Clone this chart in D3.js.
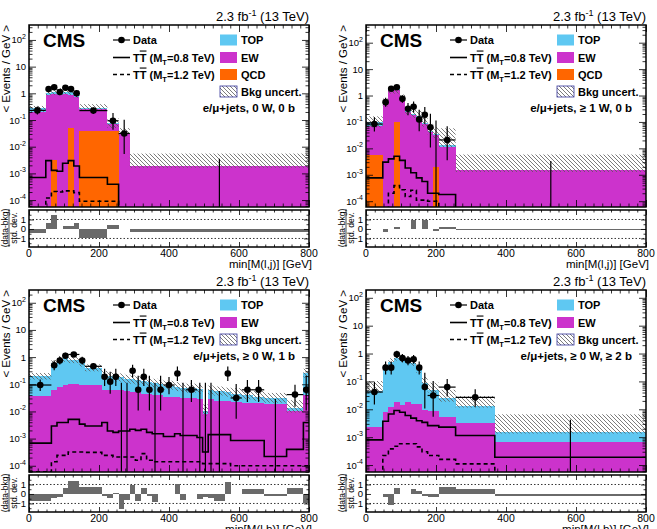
<!DOCTYPE html>
<html>
<head>
<meta charset="utf-8">
<script src="https://cdn.jsdelivr.net/npm/d3@7"></script>
<style>
  body { margin: 0; background: #fff; }
  svg { font-family: "Liberation Sans", Arial, Helvetica, sans-serif; }
</style>
</head>
<body>
<svg id="chart" width="657" height="529"></svg>
<script>
// ---- data (values are < events / GeV >, data are counts) ----

// e/mu+jets, 0 W, 0 b  -- min[M(l,j)]
var tlEdges = [0, 48, 64, 80, 96, 112, 128, 144, 224, 256, 288, 800];
var tlData  = [11, 23, 27, 18, 26, 23, 16, 18, 3, 1, 0];
var tlQcd   = [0, 0, 0.0033, 0, 0, 0.05, 0, 0.04, 0.04, 0, 0];
var tlEw    = [0.2, 0.85, 0.9, 0.85, 0.95, 0.85, 0.7, 0.22, 0.033, 0.03, 0.0019];
var tlTop   = [0.07, 0.2, 0.2, 0.2, 0.2, 0.2, 0.15, 0.02, 0.004, 0.003, 0];
var tlUp    = [0.25, 0.5, 0.5, 0.5, 0.5, 0.5, 0.5, 0.4, 0.5, 0.5, 1.9];
var tlDn    = [0.25, 0.2, 0.2, 0.2, 0.2, 0.2, 0.2, 0.15, 0.35, 0.2, 0.15];
var tlSig08 = [7e-4, 3e-3, 1.3e-3, 1.2e-3, 2.4e-3, 3e-3, 1.9e-3, 7e-4, 3.9e-4, 0, 0];
var tlSig12 = [0, 1.2e-4, 2.1e-4, 2e-4, 2.2e-4, 2.2e-4, 1.9e-4, 9e-5, 9e-5, 0, 0];
var tlPull  = [-0.45, 0.6, 1.45, 0, 0.3, 0.3, 0.6, -0.9, 0.4, 0.05, -0.35];

// e/mu+jets, >= 1 W, 0 b  -- min[M(l,j)]
var trEdges = [0, 48, 64, 80, 96, 112, 128, 144, 160, 176, 192, 208, 256, 800];
var trData  = [4, 9, 29, 33, 12, 5, 6, 2, 3, 1, 0, 1, 0];
var trQcd   = [0.0057, 0, 0, 0.1, 0, 0, 0, 0, 0, 0, 0.002, 0, 0];
var trEw    = [0.063, 0.5, 1.6, 1.5, 0.75, 0.24, 0.18, 0.15, 0.085, 0.042, 0.03, 0.011, 0.0015];
var trTop   = [0.027, 0.05, 0.1, 0.1, 0.06, 0.03, 0.02, 0.015, 0.01, 0.005, 0.003, 0.002, 0];
var trUp    = [0.7, 0.4, 0.35, 0.35, 0.35, 0.4, 0.5, 0.6, 0.7, 0.8, 0.8, 3.4, 2.9];
var trDn    = [0.35, 0.3, 0.3, 0.3, 0.3, 0.3, 0.3, 0.3, 0.3, 0.3, 0.3, 0.15, 0.15];
var trSig08 = [7.6e-4, 3e-3, 4e-3, 5e-3, 3.5e-3, 1.8e-3, 1.2e-3, 7.6e-4, 5.6e-4, 2e-4, 2e-4, 1.8e-4, 0];
var trSig12 = [0, 5e-5, 2e-4, 3.9e-4, 2.7e-4, 1.5e-4, 2.6e-4, 1.1e-4, 1.1e-4, 1e-4, 1e-4, 0, 0];
var trPull  = [-0.05, -0.35, 0, 0.25, 0.05, 0.05, 0.9, 0.05, 0.9, 0.05, -0.2, 0.2, -0.15];

// e/mu+jets, >= 0 W, 1 b  -- min[M(l,b)]
var blEdges = [0, 64, 80, 96, 112, 144, 160, 208, 224, 240, 256, 272, 288, 304, 320, 336, 352, 368, 384, 416,
               432, 448, 480, 496, 512, 528, 560, 576, 608, 640, 672, 736, 784, 800];
var blData  = [6, 8, 12, 18, 40, 12, 22, 3, 2, 3, 0, 0, 5, 1, 3, 1, 0, 1, 3, 4, 0, 2, 0, 0, 0, 0, 4, 1, 2, 2, 0, 2, 1];
var blEw    = [0.038, 0.063, 0.08, 0.095, 0.1, 0.095, 0.095, 0.063, 0.063, 0.06, 0.06, 0.055, 0.05, 0.05, 0.045,
               0.045, 0.04, 0.04, 0.035, 0.035, 0.03, 0.03, 0.028, 0.008, 0.028, 0.025, 0.025, 0.022, 0.02, 0.02,
               0.018, 0.01, 0.04];
var blTop   = [0.162, 0.537, 0.77, 0.805, 0.7, 0.505, 0.305, 0.157, 0.137, 0.12, 0.12, 0.105, 0.1, 0.09, 0.085,
               0.075, 0.07, 0.06, 0.055, 0.045, 0.045, 0.04, 0.037, 0.002, 0.032, 0.03, 0.025, 0.023, 0.02, 0.015,
               0.012, 0.003, 0.21];
var blUp    = [0.3, 0.3, 0.3, 0.3, 0.3, 0.35, 0.35, 0.4, 0.4, 0.4, 0.4, 0.4, 0.4, 0.4, 0.45, 0.45, 0.45, 0.45, 0.5,
               0.5, 0.5, 0.5, 0.5, 0.8, 0.5, 0.5, 0.5, 0.6, 0.6, 0.6, 0.6, 1.0, 0.5];
var blDn    = [0.25, 0.25, 0.25, 0.25, 0.25, 0.25, 0.25, 0.3, 0.3, 0.3, 0.3, 0.3, 0.3, 0.3, 0.3, 0.3, 0.3, 0.3, 0.3,
               0.3, 0.3, 0.3, 0.3, 0.3, 0.3, 0.3, 0.3, 0.3, 0.3, 0.3, 0.3, 0.3, 0.3];
var blSig08 = [6.8e-4, 2.9e-3, 3.9e-3, 3.9e-3, 5.1e-3, 3.4e-3, 2.9e-3, 3.9e-3, 1.9e-3, 1.7e-3, 1.9e-3, 1.9e-3,
               2.2e-3, 2e-3, 2.2e-3, 1.7e-3, 1.5e-3, 1.5e-3, 1.2e-3, 1.5e-3, 1.3e-3, 1.3e-3, 1.1e-3, 3.2e-4,
               1.4e-3, 1.4e-3, 1.4e-3, 8.5e-4, 8.5e-4, 8.5e-4, 2.2e-4, 4e-4, 3.9e-3];
var blSig12 = [6e-5, 1.4e-4, 2.4e-4, 2.4e-4, 3.2e-4, 3.2e-4, 3.1e-4, 2.4e-4, 2.4e-4, 2.1e-4, 2.1e-4, 2.1e-4,
               2.1e-4, 1.6e-4, 2.8e-4, 1.6e-4, 1.4e-4, 1.4e-4, 1.4e-4, 1.4e-4, 1.4e-4, 1.4e-4, 1.4e-4, 1.2e-4,
               1.2e-4, 1.2e-4, 1.2e-4, 1e-4, 1e-4, 1e-4, 1e-4, 1e-4, 1e-4];
var blPull  = [-0.75, -0.4, -0.3, 0.6, 1.4, 0.75, 0.75, -0.2, -0.4, 0.1, -1.6, -0.6, 0.9, -0.7, 0.6, -0.2, -0.8,
               0, 0.05, 1.0, -0.6, 0, -0.5, -0.3, -0.4, -0.7, 1.3, 0, 0.5, 0.5, -0.2, 0.6, -1.0];

// e/mu+jets, >= 0 W, >= 2 b  -- min[M(l,b)]
var brEdges = [0, 48, 64, 80, 96, 112, 128, 144, 160, 176, 208, 256, 368, 800];
var brData  = [2, 5, 5, 15, 11, 9, 10, 5, 1, 1, 3, 3, 0];
var brEw    = [0.0024, 0.0078, 0.012, 0.018, 0.014, 0.018, 0.016, 0.015, 0.0098, 0.009, 0.0052, 0.0032, 0.00066];
var brTop   = [0.0446, 0.292, 0.488, 0.682, 0.586, 0.532, 0.434, 0.235, 0.08, 0.041, 0.0198, 0.0098, 0.00084];
var brUp    = [1.2, 0.4, 0.35, 0.35, 0.35, 0.35, 0.4, 0.5, 0.6, 0.8, 1.0, 1.3, 3.4];
var brDn    = [0.15, 0.2, 0.2, 0.2, 0.2, 0.2, 0.2, 0.2, 0.2, 0.2, 0.25, 0.12, 0.1];
var brSig08 = [8e-4, 3.7e-3, 6.8e-3, 9e-3, 7.8e-3, 6e-3, 4.8e-3, 3.9e-3, 3.4e-3, 2.6e-3, 2.3e-3, 1.15e-3, 1.9e-4];
var brSig12 = [0, 2.2e-4, 3.8e-4, 4.7e-4, 5.8e-4, 5.8e-4, 5.8e-4, 4.5e-4, 3e-4, 2.2e-4, 1.6e-4, 1.1e-4, 0];
var brPull  = [-0.05, -0.35, -1.2, 0.6, 0.05, 0.05, 0.5, 0.3, -0.2, -0.35, 0.7, 0.5, -0.25];

var xTicks = [0, 200, 400, 600, 800];
var pullTicks = [-1, 0, 1];

var colors = {top: '#5fc8f2', ew: '#cc33cc', qcd: '#ff6600'};

var panels = [
  {key: 'tl', left: 29, top: 25, edges: tlEdges, data: tlData, qcd: tlQcd, ew: tlEw, tp: tlTop, up: tlUp, dn: tlDn,
   s08: tlSig08, s12: tlSig12, pull: tlPull, dom: [-4.26, 2.56],
   cat: 'e/\u03bc+jets, 0 W, 0 b', xtitle: 'min[M(l,j)] [GeV]'},
  {key: 'tr', left: 366, top: 25, edges: trEdges, data: trData, qcd: trQcd, ew: trEw, tp: trTop, up: trUp, dn: trDn,
   s08: trSig08, s12: trSig12, pull: trPull, dom: [-4.22, 2.67],
   cat: 'e/\u03bc+jets, \u2265 1 W, 0 b', xtitle: 'min[M(l,j)] [GeV]'},
  {key: 'bl', left: 29, top: 290, edges: blEdges, data: blData, qcd: null, ew: blEw, tp: blTop, up: blUp, dn: blDn,
   s08: blSig08, s12: blSig12, pull: blPull, dom: [-4.23, 2.47],
   cat: 'e/\u03bc+jets, \u2265 0 W, 1 b', xtitle: 'min[M(l,b)] [GeV]'},
  {key: 'br', left: 366, top: 290, edges: brEdges, data: brData, qcd: null, ew: brEw, tp: brTop, up: brUp, dn: brDn,
   s08: brSig08, s12: brSig12, pull: brPull, dom: [-4.25, 2.28],
   cat: 'e/\u03bc+jets, \u2265 0 W, \u2265 2 b', xtitle: 'min[M(l,b)] [GeV]'}
];

var FW = 280, FH = 182, RH = 37, RGAP = 3;

var svg = d3.select('#chart');
var defs = svg.append('defs');
var pat = defs.append('pattern').attr('id', 'hatch').attr('patternUnits', 'userSpaceOnUse')
    .attr('width', 4).attr('height', 4);
pat.append('path').attr('d', 'M-1,-1 L5,5 M3,-1 L5,1 M-1,3 L1,5')
    .attr('stroke', '#5a5a5a').attr('stroke-width', 0.8);

// garwood 68% interval (Wilson-Hilferty form)
function poisLo(n) {
  if (n === 0) return 0;
  var a = 1 - 1 / (9 * n) - 1 / (3 * Math.sqrt(n));
  return n * a * a * a;
}
function poisHi(n) {
  var m = n + 1;
  var a = 1 - 1 / (9 * m) + 1 / (3 * Math.sqrt(m));
  return m * a * a * a;
}

function ticks(g, axisFn, scale, vals, len, tx) {
  g.append('g').attr('transform', tx)
      .call(axisFn(scale).tickValues(vals).tickSize(-len).tickFormat(''))
      .call(function (s) {
        s.select('.domain').remove();
        s.selectAll('line').attr('stroke-width', 0.8);
      });
}

function supText(sel, base, sup, size) {
  sel.append('tspan').text(base);
  sel.append('tspan').attr('dy', -4.5).attr('font-size', size).text(sup);
}

function drawPanel(p) {
  var x = d3.scaleLinear().domain([0, 800]).range([0, FW]);
  var y = d3.scaleLog().domain([Math.pow(10, p.dom[0]), Math.pow(10, p.dom[1])]).range([FH, 0]);
  var ys = function (v) { return v > 0 ? Math.min(y(v), FH + 30) : FH + 30; };

  defs.append('clipPath').attr('id', 'clip-' + p.key)
      .append('rect').attr('width', FW).attr('height', FH);

  var g = svg.append('g').attr('transform', 'translate(' + p.left + ',' + p.top + ')');
  var plot = g.append('g').attr('clip-path', 'url(#clip-' + p.key + ')');

  var bins = p.data.map(function (n, i) {
    var b = {x0: p.edges[i], x1: p.edges[i + 1], n: n, qcd: p.qcd ? p.qcd[i] : 0, ew: p.ew[i], top: p.tp[i],
             up: p.up[i], dn: p.dn[i]};
    b.w = b.x1 - b.x0;
    b.tot = b.qcd + b.ew + b.top;
    return b;
  });

  // stacked backgrounds
  var keys = p.qcd ? ['qcd', 'ew', 'top'] : ['ew', 'top'];
  var series = d3.stack().keys(keys)(bins);
  plot.selectAll('g.layer').data(series).enter().append('g')
      .attr('class', 'layer')
      .attr('fill', function (s) { return colors[s.key]; })
      .attr('shape-rendering', 'crispEdges')
      .selectAll('rect')
      .data(function (s) { return s.filter(function (d) { return d[1] > d[0]; }); })
      .enter().append('rect')
      .attr('x', function (d) { return x(d.data.x0); })
      .attr('width', function (d) { return x(d.data.x1) - x(d.data.x0); })
      .attr('y', function (d) { return ys(d[1]); })
      .attr('height', function (d) { return ys(d[0]) - ys(d[1]); });

  // background uncertainty
  plot.selectAll('rect.unc').data(bins.filter(function (b) { return b.tot > 0; }))
      .enter().append('rect')
      .attr('class', 'unc')
      .attr('x', function (d) { return x(d.x0); })
      .attr('width', function (d) { return x(d.x1) - x(d.x0); })
      .attr('y', function (d) { return y(d.tot * (1 + d.up)); })
      .attr('height', function (d) { return ys(d.tot * (1 - d.dn)) - y(d.tot * (1 + d.up)); })
      .attr('fill', 'url(#hatch)');

  // signal step lines
  var step = d3.line().x(function (d) { return x(d[0]); }).y(function (d) { return ys(d[1]); })
      .curve(d3.curveStepAfter);
  function pts(vals) {
    var a = vals.map(function (v, i) { return [p.edges[i], v]; });
    a.push([p.edges[p.edges.length - 1], vals[vals.length - 1]]);
    return a;
  }
  plot.append('path').attr('d', step(pts(p.s08)))
      .attr('fill', 'none').attr('stroke', '#000').attr('stroke-width', 1.6);
  plot.append('path').attr('d', step(pts(p.s12)))
      .attr('fill', 'none').attr('stroke', '#000').attr('stroke-width', 1.6)
      .attr('stroke-dasharray', '4,3');

  // data
  var dg = plot.selectAll('g.pt').data(bins).enter().append('g').attr('class', 'pt');
  dg.append('line')
      .attr('x1', function (d) { return x((d.x0 + d.x1) / 2); })
      .attr('x2', function (d) { return x((d.x0 + d.x1) / 2); })
      .attr('y1', function (d) { return ys(poisHi(d.n) / d.w); })
      .attr('y2', function (d) { return ys(poisLo(d.n) / d.w); })
      .attr('stroke', '#000').attr('stroke-width', 1.2);
  var nz = dg.filter(function (d) { return d.n > 0; });
  nz.append('line')
      .attr('x1', function (d) { return x(d.x0); })
      .attr('x2', function (d) { return x(d.x1); })
      .attr('y1', function (d) { return y(d.n / d.w); })
      .attr('y2', function (d) { return y(d.n / d.w); })
      .attr('stroke', '#000').attr('stroke-width', 1.2);
  nz.append('circle')
      .attr('cx', function (d) { return x((d.x0 + d.x1) / 2); })
      .attr('cy', function (d) { return y(d.n / d.w); })
      .attr('r', 3.3).attr('fill', '#000');

  // ticks
  var maj = [], mnr = [];
  for (var k = Math.floor(p.dom[0]); k <= Math.ceil(p.dom[1]); k++) {
    if (k >= p.dom[0] && k <= p.dom[1]) maj.push(Math.pow(10, k));
    for (var m = 2; m < 10; m++) {
      var lv = Math.log10(m) + k;
      if (lv >= p.dom[0] && lv <= p.dom[1]) mnr.push(m * Math.pow(10, k));
    }
  }
  var xMinor = d3.range(25, 800, 25).filter(function (v) { return v % 200 !== 0; });
  ticks(g, d3.axisLeft, y, maj, 7, 'translate(0,0)');
  ticks(g, d3.axisLeft, y, mnr, 3.5, 'translate(0,0)');
  ticks(g, d3.axisRight, y, maj, 7, 'translate(' + FW + ',0)');
  ticks(g, d3.axisRight, y, mnr, 3.5, 'translate(' + FW + ',0)');
  ticks(g, d3.axisTop, x, xTicks, 7, 'translate(0,0)');
  ticks(g, d3.axisTop, x, xMinor, 3.5, 'translate(0,0)');
  ticks(g, d3.axisBottom, x, xTicks, 7, 'translate(0,' + FH + ')');
  ticks(g, d3.axisBottom, x, xMinor, 3.5, 'translate(0,' + FH + ')');
  g.append('rect').attr('width', FW).attr('height', FH)
      .attr('fill', 'none').attr('stroke', '#000').attr('stroke-width', 1.5);

  // y tick labels
  maj.forEach(function (v) {
    var e = Math.round(Math.log10(v));
    var t = g.append('text').attr('x', -3).attr('y', y(v) + 3.5).attr('text-anchor', 'end')
        .attr('font-size', 9.5);
    if (e === 0) t.text('1');
    else if (e === 1) t.text('10');
    else supText(t, '10', String(e), 7);
  });

  // y title
  g.append('text').attr('transform', 'translate(-19,0) rotate(-90)')
      .attr('text-anchor', 'end').attr('font-size', 11.5).text('< Events / GeV >');

  // header
  var hd = g.append('text').attr('x', FW).attr('y', -4).attr('text-anchor', 'end').attr('font-size', 13);
  hd.append('tspan').text('2.3 fb');
  hd.append('tspan').attr('dy', -5).attr('font-size', 9).text('-1');
  hd.append('tspan').attr('dy', 5).text(' (13 TeV)');

  g.append('text').attr('x', 14).attr('y', 22).attr('font-size', 19).attr('font-weight', 'bold').text('CMS');

  // legend
  var lg = g.append('g').attr('font-size', 11).attr('font-weight', 'bold');
  var rows = [15, 32.5, 49.5, 66.5];
  lg.append('line').attr('x1', 84).attr('x2', 101).attr('y1', rows[0]).attr('y2', rows[0])
      .attr('stroke', '#000').attr('stroke-width', 1.2);
  lg.append('circle').attr('cx', 92.5).attr('cy', rows[0]).attr('r', 3.3).attr('fill', '#000');
  lg.append('text').attr('x', 104).attr('y', rows[0] + 4).text('Data');
  [['0.8', null], ['1.2', '4,3']].forEach(function (s, i) {
    var ry = rows[i + 1];
    lg.append('line').attr('x1', 84).attr('x2', 101).attr('y1', ry).attr('y2', ry)
        .attr('stroke', '#000').attr('stroke-width', 1.6).attr('stroke-dasharray', s[1]);
    var t = lg.append('text').attr('x', 104).attr('y', ry + 4);
    t.append('tspan').text('T');
    t.append('tspan').style('text-decoration', 'overline').text('T');
    t.append('tspan').text(' (M');
    t.append('tspan').attr('dy', 3).attr('font-size', 7.5).text('T');
    t.append('tspan').attr('dy', -3).text('=' + s[0] + ' TeV)');
  });
  var boxes = [['TOP', colors.top], ['EW', colors.ew]];
  if (p.qcd) boxes.push(['QCD', colors.qcd]);
  boxes.push(['Bkg uncert.', 'url(#hatch)']);
  boxes.forEach(function (b, i) {
    var ry = rows[i];
    lg.append('rect').attr('x', 191).attr('y', ry - 5.5).attr('width', 17).attr('height', 11)
        .attr('fill', b[1])
        .attr('stroke', b[0] === 'Bkg uncert.' ? '#34349a' : 'none').attr('stroke-width', 0.8);
    lg.append('text').attr('x', 212).attr('y', ry + 4).text(b[0]);
  });
  var catY = p.qcd ? 83 : 66;
  g.append('text').attr('x', FW - 14).attr('y', catY + 4).attr('text-anchor', 'end')
      .attr('font-size', 11.5).attr('font-weight', 'bold').text(p.cat);

  // ---- pull panel ----
  var rg = svg.append('g').attr('transform', 'translate(' + p.left + ',' + (p.top + FH + RGAP) + ')');
  var yr = d3.scaleLinear().domain([-1.9, 2.0]).range([RH, 0]);
  [-1, 1].forEach(function (v) {
    rg.append('line').attr('x1', 0).attr('x2', FW).attr('y1', yr(v)).attr('y2', yr(v))
        .attr('stroke', '#000').attr('stroke-width', 0.8).attr('stroke-dasharray', '1.5,2');
  });
  rg.selectAll('rect.pull').data(p.pull.map(function (v, i) { return {x0: p.edges[i], x1: p.edges[i + 1], v: v}; })
      .filter(function (d) { return d.v !== 0; }))
      .enter().append('rect').attr('class', 'pull')
      .attr('x', function (d) { return x(d.x0); })
      .attr('width', function (d) { return x(d.x1) - x(d.x0); })
      .attr('y', function (d) { return yr(Math.max(0, d.v)); })
      .attr('height', function (d) { return Math.abs(yr(d.v) - yr(0)); })
      .attr('fill', '#6a6a6a').attr('shape-rendering', 'crispEdges');
  ticks(rg, d3.axisLeft, yr, pullTicks, 5, 'translate(0,0)');
  ticks(rg, d3.axisLeft, yr, [-1.5, -0.5, 0.5, 1.5], 2.5, 'translate(0,0)');
  ticks(rg, d3.axisRight, yr, pullTicks, 5, 'translate(' + FW + ',0)');
  ticks(rg, d3.axisRight, yr, [-1.5, -0.5, 0.5, 1.5], 2.5, 'translate(' + FW + ',0)');
  ticks(rg, d3.axisTop, x, xTicks, 5, 'translate(0,0)');
  ticks(rg, d3.axisTop, x, xMinor, 2.5, 'translate(0,0)');
  ticks(rg, d3.axisBottom, x, xTicks, 5, 'translate(0,' + RH + ')');
  ticks(rg, d3.axisBottom, x, xMinor, 2.5, 'translate(0,' + RH + ')');
  rg.append('rect').attr('width', FW).attr('height', RH)
      .attr('fill', 'none').attr('stroke', '#000').attr('stroke-width', 1.5);

  pullTicks.forEach(function (v) {
    rg.append('text').attr('x', -3).attr('y', yr(v) + 3.5).attr('text-anchor', 'end')
        .attr('font-size', 9.5).text(v < 0 ? '\u2212' + Math.abs(v) : String(v));
  });
  xTicks.forEach(function (v) {
    rg.append('text').attr('x', x(v)).attr('y', RH + 10).attr('text-anchor', 'middle')
        .attr('font-size', 10.5).text(String(v));
  });
  rg.append('text').attr('x', FW + 3).attr('y', RH + 21).attr('text-anchor', 'end')
      .attr('font-size', 11.5).text(p.xtitle);

  var fr = rg.append('g').attr('transform', 'translate(-20,' + (yr(0) - 1) + ') rotate(-90)')
      .attr('font-size', 8.5).attr('text-anchor', 'middle');
  fr.append('text').attr('x', 0).attr('y', -1.5).text('(data-bkg)');
  fr.append('line').attr('x1', -19).attr('x2', 19).attr('y1', 0).attr('y2', 0)
      .attr('stroke', '#000').attr('stroke-width', 0.7);
  fr.append('text').attr('x', 0).attr('y', 7.5).text('std. dev.');
}

panels.forEach(drawPanel);
</script>
</body>
</html>
